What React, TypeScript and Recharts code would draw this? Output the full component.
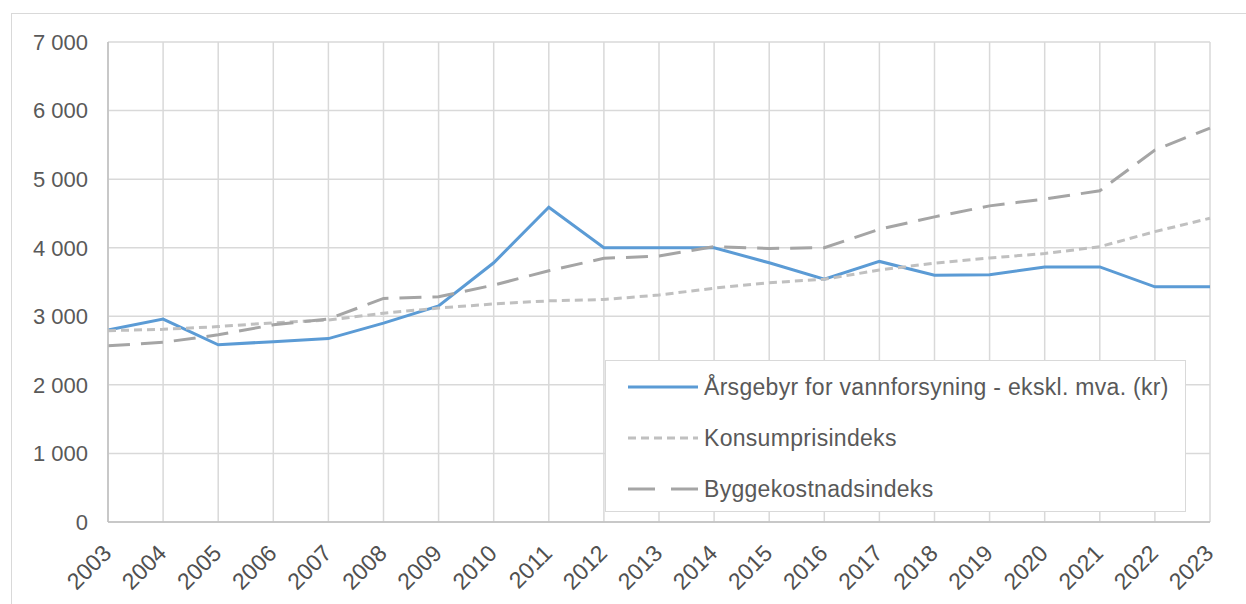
import React from "react";
import { LineChart, Line, XAxis, YAxis, CartesianGrid } from "recharts";

const years = [
  "2003", "2004", "2005", "2006", "2007", "2008", "2009", "2010", "2011", "2012", "2013",
  "2014", "2015", "2016", "2017", "2018", "2019", "2020", "2021", "2022", "2023",
];

// Årsgebyr for vannforsyning - ekskl. mva. (kr)
const arsgebyr = [
  2800, 2960, 2585, 2630, 2675, 2900, 3150, 3780, 4590, 4000, 4000,
  4000, 3780, 3540, 3800, 3600, 3605, 3720, 3720, 3430, 3430,
];

const konsumprisindeks = [
  2790, 2810, 2850, 2905, 2945, 3045, 3120, 3180, 3225, 3245, 3310,
  3410, 3490, 3540, 3675, 3775, 3850, 3915, 4015, 4235, 4430,
];

const byggekostnadsindeks = [
  2570, 2620, 2730, 2875, 2960, 3260, 3285, 3455, 3665, 3845, 3880,
  4015, 3990, 4000, 4270, 4450, 4610, 4710, 4830, 5425, 5745,
];

const yTicks = [0, 1000, 2000, 3000, 4000, 5000, 6000, 7000];

const SERIES = [
  { key: "arsgebyr", name: "Årsgebyr for vannforsyning - ekskl. mva. (kr)", color: "#5b9bd5", dash: undefined as string | undefined, legendDash: undefined as string | undefined },
  { key: "kpi", name: "Konsumprisindeks", color: "#c0c0c0", dash: "8 5", legendDash: "8 5" },
  { key: "bki", name: "Byggekostnadsindeks", color: "#a5a5a5", dash: "22 11", legendDash: "27 16" },
];

const data = years.map((year, i) => ({
  year,
  arsgebyr: arsgebyr[i],
  kpi: konsumprisindeks[i],
  bki: byggekostnadsindeks[i],
}));

const FONT = '"Liberation Sans", Arial, sans-serif';
const TEXT = "#595959";

const fmt = (v: number) => String(v).replace(/\B(?=(\d{3})+(?!\d))/g, " ");

function YearTick(props: any) {
  const { x, y, payload } = props;
  return (
    <g transform={`translate(${x - 1},${y + 27}) rotate(-45)`}>
      <text textAnchor="end" dy="0.35em" fill="#505050" fontSize={23} fontFamily={FONT}>
        {payload.value}
      </text>
    </g>
  );
}

function LegendBox() {
  return (
    <div
      style={{
        position: "absolute",
        left: 605,
        top: 360,
        width: 581,
        height: 152,
        background: "#fff",
        border: "1.5px solid #d9d9d9",
        boxSizing: "border-box",
      }}
    >
      {SERIES.map((s, i) => (
        <div
          key={s.key}
          style={{
            position: "absolute",
            left: 0,
            top: 26 + i * 51 - 14,
            height: 28,
            display: "flex",
            alignItems: "center",
          }}
        >
          <svg width={98} height={28} style={{ display: "block" }}>
            <line x1={22} x2={92} y1={14} y2={14} stroke={s.color} strokeWidth={3} strokeDasharray={s.legendDash} />
          </svg>
          <span style={{ fontFamily: FONT, fontSize: 23, letterSpacing: 0.3, color: TEXT, whiteSpace: "nowrap" }}>{s.name}</span>
        </div>
      ))}
    </div>
  );
}

export default function App() {
  return (
    <div style={{ position: "absolute", left: 0, top: 0, width: 1246, height: 604, background: "#fff", overflow: "hidden" }}>
      <div
        style={{
          position: "absolute",
          left: 11,
          top: 13,
          width: 1250,
          height: 620,
          border: "1.5px solid #d9d9d9",
          boxSizing: "border-box",
        }}
      />
      <LineChart
        width={1246}
        height={604}
        data={data}
        margin={{ top: 42, right: 36, left: 8, bottom: 0 }}
        style={{ position: "absolute", left: 0, top: 0 }}
      >
        <CartesianGrid stroke="#d9d9d9" strokeWidth={1.5} />
        <XAxis
          dataKey="year"
          scale="point"
          padding={{ left: 0, right: 0 }}
          interval={0}
          height={82}
          tickLine={false}
          tickSize={0}
          tickMargin={0}
          axisLine={{ stroke: "#bfbfbf", strokeWidth: 1.5 }}
          tick={<YearTick />}
        />
        <YAxis
          width={100}
          domain={[0, 7000]}
          ticks={yTicks}
          interval={0}
          tickFormatter={fmt}
          tickLine={false}
          tickSize={0}
          tickMargin={20}
          axisLine={{ stroke: "#bfbfbf", strokeWidth: 1.5 }}
          tick={{ fill: TEXT, fontSize: 22, fontFamily: FONT }}
        />
        {SERIES.map((s) => (
          <Line
            key={s.key}
            dataKey={s.key}
            name={s.name}
            type="linear"
            stroke={s.color}
            strokeWidth={3}
            strokeDasharray={s.dash}
            dot={false}
            activeDot={false}
            isAnimationActive={false}
          />
        ))}
      </LineChart>
      <LegendBox />
    </div>
  );
}
